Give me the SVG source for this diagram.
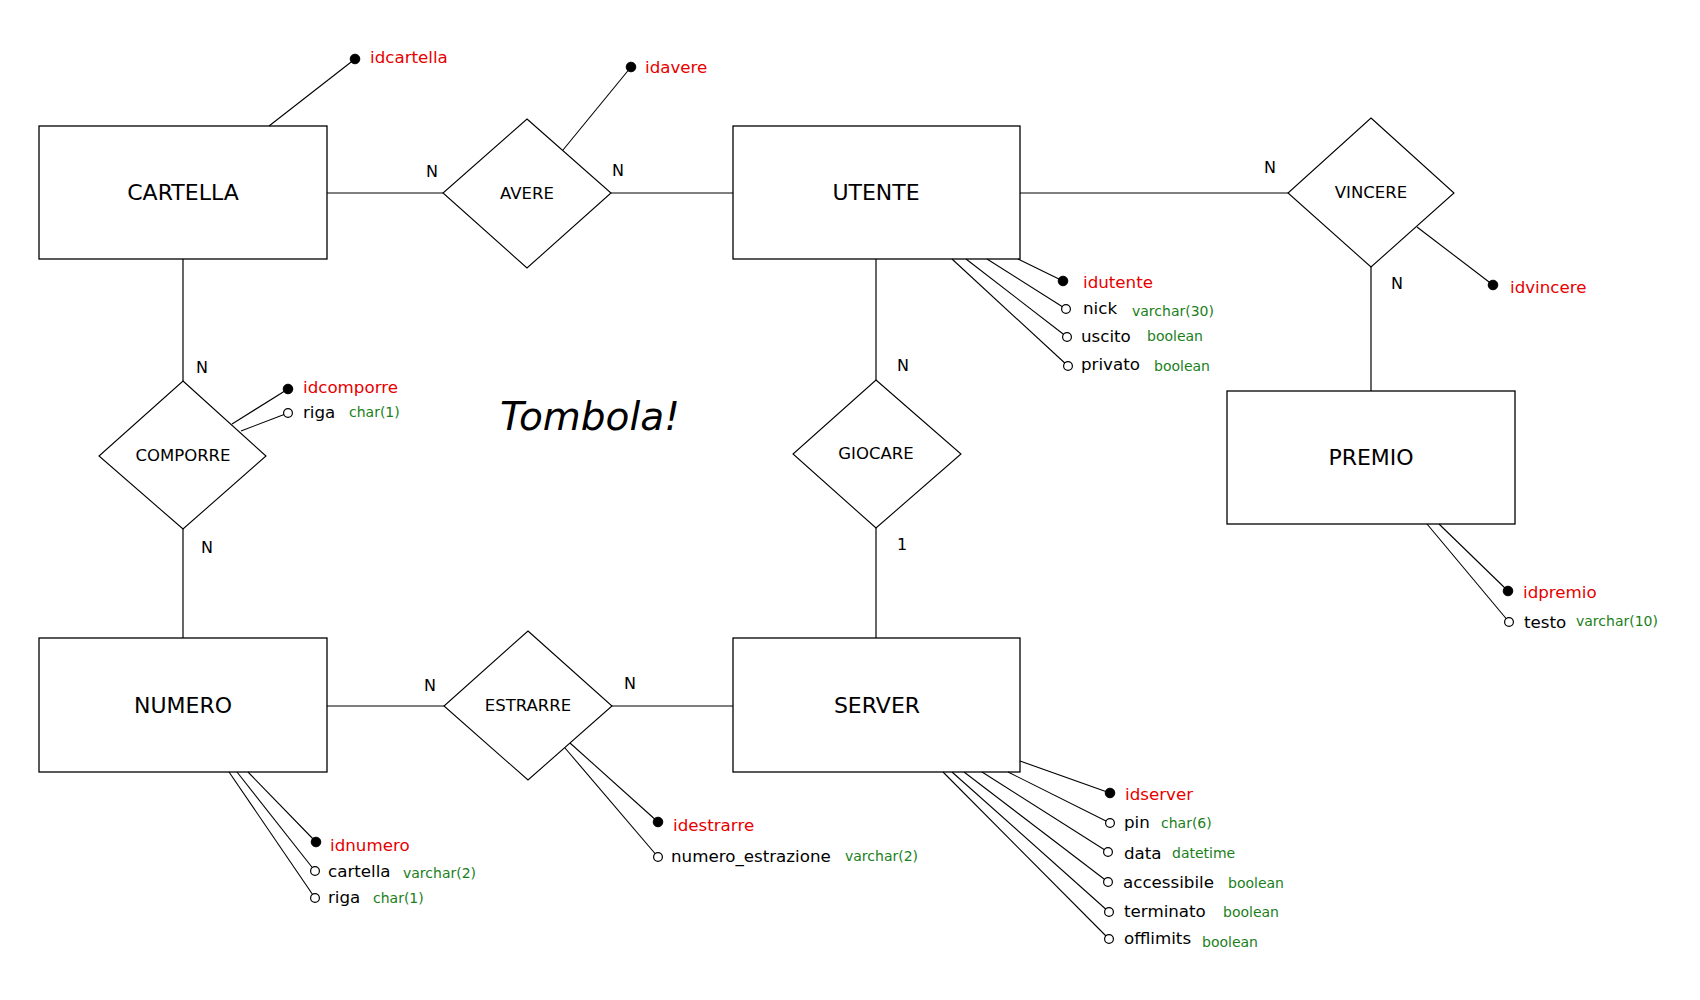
<svg xmlns="http://www.w3.org/2000/svg" width="1700" height="1000" viewBox="0 0 1700 1000">
<style>
  text { font-family: "DejaVu Sans", "Liberation Sans", sans-serif; fill: #000; }
  .ent rect { fill: #fff; stroke: #000; stroke-width: 1.3; }
  .rel polygon { fill: #fff; stroke: #000; stroke-width: 1.1; }
  .elabel { font-size: 22px; text-anchor: middle; }
  .rlabel { font-size: 16.5px; text-anchor: middle; }
  .card { font-size: 16px; text-anchor: middle; }
  .conn line { stroke: #000; stroke-width: 1.2; }
  .att line { stroke: #000; stroke-width: 1.1; }
  .key { fill: #000; stroke: #000; stroke-width: 1; }
  .opt { fill: #fff; stroke: #000; stroke-width: 1.2; }
  .kname { font-size: 16.7px; fill: #e60000; }
  .aname { font-size: 16.7px; fill: #000; }
  .atype { font-size: 14px; fill: #1a801a; }
  .title { font-size: 39px; font-style: italic; }
</style>
<rect x="0" y="0" width="1700" height="1000" fill="#fff"/>

<g id="connectors" class="conn">
  <line x1="327" y1="193" x2="443" y2="193"/>
  <line x1="611" y1="193" x2="733" y2="193"/>
  <line x1="1020" y1="193" x2="1288" y2="193"/>
  <line x1="1371" y1="267" x2="1371" y2="391"/>
  <line x1="183" y1="259" x2="183" y2="381"/>
  <line x1="183" y1="529" x2="183" y2="638"/>
  <line x1="876" y1="259" x2="876" y2="380"/>
  <line x1="876" y1="528" x2="876" y2="638"/>
  <line x1="327" y1="706" x2="444" y2="706"/>
  <line x1="612" y1="706" x2="733" y2="706"/>
</g>

<g id="cardinalities">
  <text class="card" x="432" y="177">N</text>
  <text class="card" x="618" y="176">N</text>
  <text class="card" x="1270" y="173">N</text>
  <text class="card" x="1397" y="289">N</text>
  <text class="card" x="202" y="373">N</text>
  <text class="card" x="207" y="553">N</text>
  <text class="card" x="903" y="371">N</text>
  <text class="card" x="902" y="550">1</text>
  <text class="card" x="430" y="691">N</text>
  <text class="card" x="630" y="689">N</text>
</g>

<g id="CARTELLA" class="ent">
  <rect x="39" y="126" width="288" height="133"/>
  <text class="elabel" x="183" y="200">CARTELLA</text>
</g>
<g id="UTENTE" class="ent">
  <rect x="733" y="126" width="287" height="133"/>
  <text class="elabel" x="876" y="200">UTENTE</text>
</g>
<g id="PREMIO" class="ent">
  <rect x="1227" y="391" width="288" height="133"/>
  <text class="elabel" x="1371" y="465">PREMIO</text>
</g>
<g id="NUMERO" class="ent">
  <rect x="39" y="638" width="288" height="134"/>
  <text class="elabel" x="183" y="713">NUMERO</text>
</g>
<g id="SERVER" class="ent">
  <rect x="733" y="638" width="287" height="134"/>
  <text class="elabel" x="877" y="713">SERVER</text>
</g>

<g id="AVERE" class="rel">
  <polygon points="527,119 611,193 527,268 443,193"/>
  <text class="rlabel" x="527" y="199">AVERE</text>
</g>
<g id="VINCERE" class="rel">
  <polygon points="1371,118 1454,193 1371,267 1288,193"/>
  <text class="rlabel" x="1371" y="198">VINCERE</text>
</g>
<g id="COMPORRE" class="rel">
  <polygon points="183,381 266,456 183,529 99,456"/>
  <text class="rlabel" x="183" y="461">COMPORRE</text>
</g>
<g id="GIOCARE" class="rel">
  <polygon points="876,380 961,454 876,528 793,454"/>
  <text class="rlabel" x="876" y="459">GIOCARE</text>
</g>
<g id="ESTRARRE" class="rel">
  <polygon points="528,631 612,706 528,780 444,706"/>
  <text class="rlabel" x="528" y="711">ESTRARRE</text>
</g>

<text class="title" x="500" y="430">Tombola!</text>

<g id="attr-cartella" class="att">
  <line x1="269" y1="126" x2="355" y2="59"/>
  <circle class="key" cx="355" cy="59" r="4.8"/>
  <text class="kname" x="370" y="63">idcartella</text>
</g>
<g id="attr-avere" class="att">
  <line x1="563" y1="150" x2="631" y2="67"/>
  <circle class="key" cx="631" cy="67" r="4.8"/>
  <text class="kname" x="645" y="73">idavere</text>
</g>
<g id="attr-vincere" class="att">
  <line x1="1417" y1="227" x2="1493" y2="285"/>
  <circle class="key" cx="1493" cy="285" r="4.8"/>
  <text class="kname" x="1510" y="293">idvincere</text>
</g>
<g id="attr-utente" class="att">
  <line x1="1018" y1="259" x2="1063" y2="281"/>
  <line x1="987" y1="259" x2="1066" y2="309"/>
  <line x1="966" y1="259" x2="1067" y2="337"/>
  <line x1="952" y1="259" x2="1068" y2="366"/>
  <circle class="key" cx="1063" cy="281" r="4.8"/>
  <circle class="opt" cx="1066" cy="309" r="4.4"/>
  <circle class="opt" cx="1067" cy="337" r="4.4"/>
  <circle class="opt" cx="1068" cy="366" r="4.4"/>
  <text class="kname" x="1083" y="288">idutente</text>
  <text class="aname" x="1083" y="314">nick</text>
  <text class="atype" x="1132" y="316">varchar(30)</text>
  <text class="aname" x="1081" y="342">uscito</text>
  <text class="atype" x="1147" y="341">boolean</text>
  <text class="aname" x="1081" y="370">privato</text>
  <text class="atype" x="1154" y="371">boolean</text>
</g>
<g id="attr-premio" class="att">
  <line x1="1439" y1="524" x2="1508" y2="591"/>
  <line x1="1427" y1="524" x2="1509" y2="622"/>
  <circle class="key" cx="1508" cy="591" r="4.8"/>
  <circle class="opt" cx="1509" cy="622" r="4.4"/>
  <text class="kname" x="1523" y="598">idpremio</text>
  <text class="aname" x="1524" y="628">testo</text>
  <text class="atype" x="1576" y="626">varchar(10)</text>
</g>
<g id="attr-comporre" class="att">
  <line x1="232" y1="424" x2="288" y2="389"/>
  <line x1="241" y1="431" x2="288" y2="413"/>
  <circle class="key" cx="288" cy="389" r="4.8"/>
  <circle class="opt" cx="288" cy="413" r="4.4"/>
  <text class="kname" x="303" y="393">idcomporre</text>
  <text class="aname" x="303" y="418">riga</text>
  <text class="atype" x="349" y="417">char(1)</text>
</g>
<g id="attr-numero" class="att">
  <line x1="248" y1="772" x2="316" y2="842"/>
  <line x1="237" y1="772" x2="315" y2="871"/>
  <line x1="229" y1="772" x2="315" y2="898"/>
  <circle class="key" cx="316" cy="842" r="4.8"/>
  <circle class="opt" cx="315" cy="871" r="4.4"/>
  <circle class="opt" cx="315" cy="898" r="4.4"/>
  <text class="kname" x="330" y="851">idnumero</text>
  <text class="aname" x="328" y="877">cartella</text>
  <text class="atype" x="403" y="878">varchar(2)</text>
  <text class="aname" x="328" y="903">riga</text>
  <text class="atype" x="373" y="903">char(1)</text>
</g>
<g id="attr-estrarre" class="att">
  <line x1="570" y1="743" x2="658" y2="822"/>
  <line x1="565" y1="748" x2="658" y2="857"/>
  <circle class="key" cx="658" cy="822" r="4.8"/>
  <circle class="opt" cx="658" cy="857" r="4.4"/>
  <text class="kname" x="673" y="831">idestrarre</text>
  <text class="aname" x="671" y="862">numero_estrazione</text>
  <text class="atype" x="845" y="861">varchar(2)</text>
</g>
<g id="attr-server" class="att">
  <line x1="1020" y1="761" x2="1110" y2="793"/>
  <line x1="1008" y1="772" x2="1110" y2="823"/>
  <line x1="982" y1="772" x2="1108" y2="852"/>
  <line x1="964" y1="772" x2="1108" y2="882"/>
  <line x1="952" y1="772" x2="1109" y2="912"/>
  <line x1="943" y1="772" x2="1109" y2="939"/>
  <circle class="key" cx="1110" cy="793" r="4.8"/>
  <circle class="opt" cx="1110" cy="823" r="4.4"/>
  <circle class="opt" cx="1108" cy="852" r="4.4"/>
  <circle class="opt" cx="1108" cy="882" r="4.4"/>
  <circle class="opt" cx="1109" cy="912" r="4.4"/>
  <circle class="opt" cx="1109" cy="939" r="4.4"/>
  <text class="kname" x="1125" y="800">idserver</text>
  <text class="aname" x="1124" y="828">pin</text>
  <text class="atype" x="1161" y="828">char(6)</text>
  <text class="aname" x="1124" y="859">data</text>
  <text class="atype" x="1172" y="858">datetime</text>
  <text class="aname" x="1123" y="888">accessibile</text>
  <text class="atype" x="1228" y="888">boolean</text>
  <text class="aname" x="1124" y="917">terminato</text>
  <text class="atype" x="1223" y="917">boolean</text>
  <text class="aname" x="1124" y="944">offlimits</text>
  <text class="atype" x="1202" y="947">boolean</text>
</g>
</svg>
